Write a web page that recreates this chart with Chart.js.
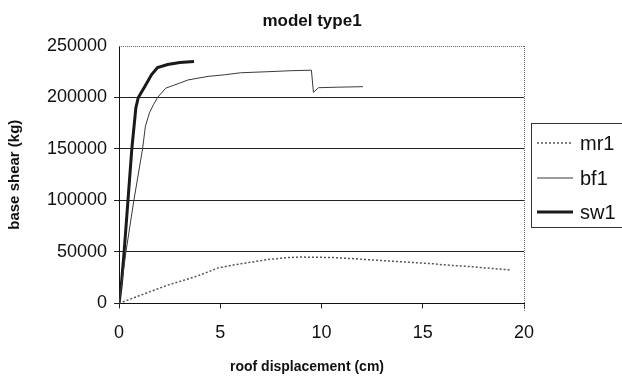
<!DOCTYPE html>
<html>
<head>
    <title>model type1</title>
    <script src="https://cdn.jsdelivr.net/npm/chart.js"></script>
    <style>
        body { margin: 0; background: #fff; }
        #wrap { width: 622px; height: 380px; }
    </style>
</head>
<body>
    <div id="wrap"><canvas id="chart" width="622" height="380"></canvas></div>
    <script>
        // roof displacement (cm) / base shear (kg)
        const sw1X = [0, 0.12, 0.25, 0.44, 0.63, 0.83, 0.95, 1.25, 1.6, 1.9, 2.4, 3.0, 3.7];
        const sw1Y = [0, 20000, 50000, 100000, 150000, 190000, 200000, 210000, 222000, 229000, 232000, 234000, 235000];

        const bf1X = [0, 0.34, 0.73, 1.16, 1.3, 1.5, 1.7, 1.9, 2.3, 3.0, 3.4, 4.4, 5.2, 6.0, 7.3, 8.5, 9.5, 9.6, 9.85, 10.8, 12.05];
        const bf1Y = [0, 50000, 100000, 150000, 172000, 185000, 193000, 200000, 209000, 214000, 217000, 220500, 222000, 224000, 225000, 226000, 226500, 205000, 209500, 210000, 210500];

        const mr1X = [0, 1.0, 2.4, 3.2, 4.0, 4.9, 5.7, 6.5, 7.3, 8.3, 9.0, 9.8, 10.6, 11.5, 12.3, 13.9, 15.5, 16.0, 17.5, 19.3];
        const mr1Y = [0, 7500, 17700, 22500, 27500, 34500, 37500, 40000, 42500, 44500, 45000, 44800, 44500, 43500, 42500, 40500, 38500, 37500, 35500, 32500];

        const seriesNames = ["mr1", "bf1", "sw1"];
        const chartTitle = "model type1";
        const xTitle = "roof displacement (cm)";
        const yTitle = "base shear (kg)";

        const FONT = "'Liberation Sans', Arial, sans-serif";

        function toPoints(xs, ys) {
            return xs.map((x, i) => ({ x: x, y: ys[i] }));
        }

        // dotted top/right frame of the plot area, plus the two titles
        const frame = {
            id: "frame",
            afterDatasetsDraw(chart) {
                const a = chart.chartArea, c = chart.ctx;
                c.save();
                c.strokeStyle = "#666";
                c.lineWidth = 1;
                c.setLineDash([1, 1]);
                c.beginPath();
                c.moveTo(a.left, a.top + 0.5);
                c.lineTo(a.right, a.top + 0.5);
                c.moveTo(a.right + 0.5, a.top);
                c.lineTo(a.right + 0.5, a.bottom + 8);
                c.stroke();
                c.setLineDash([]);
                c.fillStyle = "#111";
                c.textAlign = "center";
                c.textBaseline = "middle";
                c.font = "bold 17px " + FONT;
                c.fillText(chartTitle, 312, 21);
                c.font = "bold 14px " + FONT;
                c.fillText(xTitle, 307, 367);
                c.restore();
            }
        };

        // boxed legend on the right, like the spreadsheet one
        const boxLegend = {
            id: "boxLegend",
            afterDraw(chart) {
                const c = chart.ctx;
                const left = 531, top = 123, bottom = 227;
                c.save();
                c.strokeStyle = "#333";
                c.lineWidth = 1;
                c.setLineDash([]);
                c.strokeRect(left + 0.5, top + 0.5, 140, bottom - top);
                const ys = [143, 178, 212];
                chart.data.datasets.forEach((ds, i) => {
                    c.strokeStyle = ds.borderColor;
                    c.lineWidth = ds.borderWidth;
                    c.setLineDash(ds.borderDash || []);
                    c.beginPath();
                    c.moveTo(537, ys[i]);
                    c.lineTo(573, ys[i]);
                    c.stroke();
                    c.setLineDash([]);
                    c.fillStyle = "#111";
                    c.font = "20px " + FONT;
                    c.textBaseline = "middle";
                    c.fillText(ds.label, 580, ys[i] + 1);
                });
                c.restore();
            }
        };

        const ctx = document.getElementById("chart").getContext("2d");
        new Chart(ctx, {
            type: "scatter",
            data: {
                datasets: [
                    { label: seriesNames[0], data: toPoints(mr1X, mr1Y), borderColor: "#555", borderWidth: 1.5, borderDash: [2, 2] },
                    { label: seriesNames[1], data: toPoints(bf1X, bf1Y), borderColor: "#3a3a3a", borderWidth: 1 },
                    { label: seriesNames[2], data: toPoints(sw1X, sw1Y), borderColor: "#1a1a1a", borderWidth: 3 }
                ].map(ds => Object.assign(ds, { showLine: true, pointRadius: 0, fill: false, tension: 0 }))
            },
            options: {
                responsive: false,
                animation: false,
                layout: { padding: { left: 6, right: 98, top: 46, bottom: 22 } },
                plugins: {
                    legend: { display: false },
                    tooltip: { enabled: false },
                    title: { display: false }
                },
                scales: {
                    x: {
                        type: "linear",
                        min: 0,
                        max: 20,
                        ticks: {
                            stepSize: 5,
                            color: "#111",
                            padding: 14,
                            maxRotation: 0,
                            font: { family: FONT, size: 18 }
                        },
                        grid: { drawOnChartArea: false, drawTicks: true, tickLength: 5, color: "#222" },
                        border: { display: true, color: "#111", width: 1 }
                    },
                    y: {
                        min: 0,
                        max: 250000,
                        ticks: {
                            stepSize: 50000,
                            color: "#111",
                            padding: 7,
                            font: { family: FONT, size: 18 },
                            callback: (v) => String(v)
                        },
                        grid: {
                            drawTicks: true,
                            tickLength: 5,
                            color: (c) => (c.tick && c.tick.value === 250000) ? "rgba(0,0,0,0)" : "#222"
                        },
                        border: { display: true, color: "#111", width: 1 },
                        title: {
                            display: true,
                            text: yTitle,
                            color: "#111",
                            font: { family: FONT, size: 15, weight: "bold" },
                            padding: { top: 0, bottom: 16 }
                        }
                    }
                }
            },
            plugins: [frame, boxLegend]
        });
    </script>
</body>
</html>
